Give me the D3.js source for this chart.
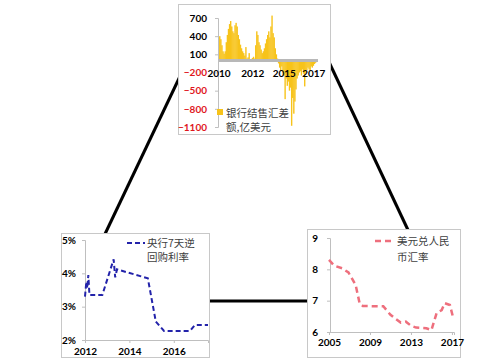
<!DOCTYPE html>
<html>
<head>
<meta charset="utf-8">
<script src="https://cdn.jsdelivr.net/npm/d3@7"></script>
<style>
  body { margin: 0; background: #fff; }
  text { font-family: Lato, "Liberation Sans", sans-serif; }
  .cjk { font-family: "Noto Sans CJK SC", sans-serif; fill: #404040; font-size: 10.5px; }
  .num { font-weight: 700; font-size: 10px; }
</style>
</head>
<body>
<svg id="chart" width="493" height="362"></svg>
<script>
/* global d3 */
// bank FX settlement balance, monthly from 2010-01, 100m USD
var fxValues = [
  380, 400, 350, 250, 150, 110, 150, 300, 420, 520, 600, 650,
  560, 480, 450, 580, 620, 560, 420, 350, 260, 200, 150, 120,
  80, 220, 30, 50, 120, 20, -20, 40, 60, 30, 250, 480,
  420, 300, 250, 180, 120, 150, 200, 280, 350, 420, 480, 380,
  560, 740, 450, 380, 200, 100, 30, -50, -120, -180, -100, -200,
  -250, -640, -300, -420, -350, -500, -450, -1080, -620, -880, -680, -480,
  -300, -250, -200, -180, -250, -150, -220, -430, -200, -160, -120, -150,
  -180, -100, -120, -90, -60, -40
];
var fxTickLabels = ["2010", "2012", "2015", "2017"];
var fxTickIndex = [0, 31, 60, 87];
var fxYTicks = [700, 400, 100, -200, -500, -800, -1100];

// 7 day reverse repo rate, %
var repoYears = [2012.0, 2012.06, 2012.1, 2012.15, 2012.2, 2012.78, 2013.29, 2013.36, 2013.44,
  2014.83, 2015.19, 2015.56, 2016.73, 2016.95, 2017.54];
var repoRates = [3.3, 3.75, 3.55, 3.95, 3.35, 3.35, 4.42, 3.88, 4.12,
  3.85, 2.55, 2.27, 2.27, 2.45, 2.45];
var repoYTicks = [2, 3, 4, 5];
var repoXTicks = [2012, 2014, 2016];

// USD/CNY
var cnyYears = [2005.0, 2005.5, 2006.3, 2006.9, 2007.6, 2008.0, 2008.3, 2010.3, 2011.0, 2011.5,
  2012.0, 2012.5, 2013.0, 2013.5, 2014.5, 2015.0, 2015.5, 2016.0, 2016.3, 2016.8, 2017.1];
var cnyRates = [8.3, 8.12, 8.03, 7.9, 7.5, 6.9, 6.83, 6.82, 6.55, 6.42,
  6.3, 6.33, 6.2, 6.14, 6.12, 6.06, 6.6, 6.7, 6.92, 6.86, 6.48];
var cnyYTicks = [6, 7, 8, 9];
var cnyXTicks = [2005, 2009, 2013, 2017];

var svg = d3.select("#chart");
var axisGray = "#bfbfbf";

// connector lines (drawn under the panels)
var links = [[183, 70, 105, 234], [329, 62, 408, 230], [205, 301, 310, 301]];
svg.selectAll("line.link").data(links).enter().append("line")
  .attr("x1", function (d) { return d[0]; }).attr("y1", function (d) { return d[1]; })
  .attr("x2", function (d) { return d[2]; }).attr("y2", function (d) { return d[3]; })
  .attr("stroke", "#000").attr("stroke-width", 3);

function panel(x, y, w, h) {
  svg.append("rect").attr("x", x + 0.5).attr("y", y + 0.5).attr("width", w).attr("height", h)
    .attr("fill", "#fff").attr("stroke", "#c8c8c8");
}

function styleAxis(a) {
  a.select(".domain").attr("stroke", axisGray);
  a.selectAll(".tick line").attr("stroke", axisGray);
  a.selectAll("text").attr("class", "num").attr("font-family", null).attr("fill", "#000");
}

// ---- top: FX settlement bars
panel(178, 4, 152, 130);
var fxX = d3.scaleBand().domain(d3.range(fxValues.length)).range([218, 316]);
var fxY = d3.scaleLinear().domain([-1100, 700]).range([127, 18]);

svg.append("g").selectAll("rect").data(fxValues).enter().append("rect")
  .attr("x", function (d, i) { return fxX(i); })
  .attr("width", fxX.bandwidth() + 0.3)
  .attr("y", function (d) { return fxY(Math.max(0, d)); })
  .attr("height", function (d) { return Math.abs(fxY(d) - fxY(0)); })
  .attr("fill", "#f7c31a");

svg.append("line").attr("x1", 218).attr("x2", 318).attr("y1", fxY(0)).attr("y2", fxY(0))
  .attr("stroke", "#b8b8b8").attr("stroke-width", 3);

var fxAxis = svg.append("g").attr("transform", "translate(218,0)")
  .call(d3.axisLeft(fxY).tickValues(fxYTicks).tickSize(3).tickPadding(8).tickFormat(d3.format("d")));
styleAxis(fxAxis);
fxAxis.selectAll("text").attr("fill", function (d) { return d < 0 ? "#e0161c" : "#000"; });

svg.append("g").selectAll("text").data(fxTickLabels).enter().append("text")
  .attr("class", "num").attr("text-anchor", "middle")
  .attr("x", function (d, i) { return fxX(fxTickIndex[i]) + 1; })
  .attr("y", 77).text(function (d) { return d; });

svg.append("rect").attr("x", 217).attr("y", 109).attr("width", 6).attr("height", 6).attr("fill", "#f7c31a");
svg.append("text").attr("class", "cjk").attr("x", 226).attr("y", 116.5).text("银行结售汇差");
svg.append("text").attr("class", "cjk").attr("x", 226).attr("y", 131).text("额,亿美元");

// ---- bottom left: reverse repo rate
panel(61, 233, 148, 124);
var rX = d3.scaleLinear().domain([2012, 2017.54]).range([85, 208]);
var rY = d3.scaleLinear().domain([2, 5]).range([340, 240]);

styleAxis(svg.append("g").attr("transform", "translate(85,0)")
  .call(d3.axisLeft(rY).tickValues(repoYTicks).tickSize(3).tickPadding(6)
    .tickFormat(function (d) { return d + "%"; })));
styleAxis(svg.append("g").attr("transform", "translate(0,340)")
  .call(d3.axisBottom(rX).tickValues(repoXTicks).tickSize(3).tickPadding(5).tickFormat(d3.format("d"))));

svg.append("path").datum(d3.range(repoYears.length))
  .attr("fill", "none").attr("stroke", "#2323aa").attr("stroke-width", 2).attr("stroke-dasharray", "5,3")
  .attr("d", d3.line().x(function (i) { return rX(repoYears[i]); }).y(function (i) { return rY(repoRates[i]); }));

svg.append("line").attr("x1", 127).attr("x2", 145).attr("y1", 243).attr("y2", 243)
  .attr("stroke", "#2323aa").attr("stroke-width", 2).attr("stroke-dasharray", "5,3");
svg.append("text").attr("class", "cjk").attr("x", 147).attr("y", 247).text("央行7天逆");
svg.append("text").attr("class", "cjk").attr("x", 147).attr("y", 261).text("回购利率");

// ---- bottom right: USD/CNY
panel(307, 229, 153, 128);
var cX = d3.scaleLinear().domain([2005, 2017.2]).range([329, 454]);
var cY = d3.scaleLinear().domain([6, 9]).range([332, 238]);

styleAxis(svg.append("g").attr("transform", "translate(330,0)")
  .call(d3.axisLeft(cY).tickValues(cnyYTicks).tickSize(3).tickPadding(9).tickFormat(d3.format("d"))));
styleAxis(svg.append("g").attr("transform", "translate(0,332)")
  .call(d3.axisBottom(cX).tickValues(cnyXTicks).tickSize(3).tickPadding(4).tickFormat(d3.format("d"))));

svg.append("path").datum(d3.range(cnyYears.length))
  .attr("fill", "none").attr("stroke", "#ee6f7d").attr("stroke-width", 2.5).attr("stroke-dasharray", "6,4")
  .attr("d", d3.line().x(function (i) { return cX(cnyYears[i]); }).y(function (i) { return cY(cnyRates[i]); }));

svg.append("line").attr("x1", 375).attr("x2", 393).attr("y1", 241).attr("y2", 241)
  .attr("stroke", "#ee6f7d").attr("stroke-width", 2.5).attr("stroke-dasharray", "6,4");
svg.append("text").attr("class", "cjk").attr("x", 397).attr("y", 245).text("美元兑人民");
svg.append("text").attr("class", "cjk").attr("x", 397).attr("y", 261).text("币汇率");
</script>
</body>
</html>
